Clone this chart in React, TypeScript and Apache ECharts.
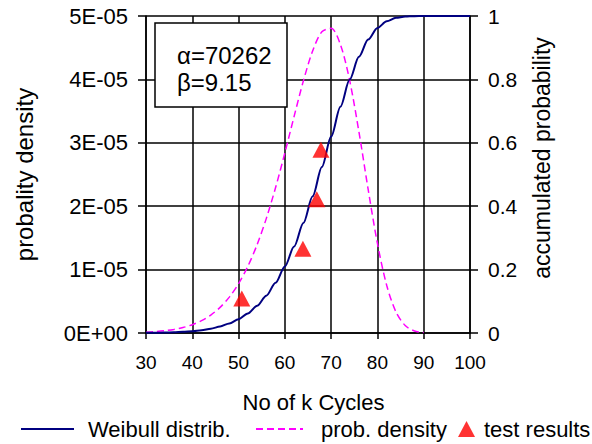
import React, { useEffect, useRef } from "react";
import * as echarts from "echarts";

const cycles = [30, 32, 34, 36, 38, 40, 42, 44, 46, 48, 50, 52, 54, 56, 58, 60, 62, 64, 66, 68, 70, 72, 74, 76, 78, 80, 82, 84, 86, 88, 90, 92, 94, 96, 98, 100];
const weibullCdf = [0.0004, 0.0007, 0.0013, 0.0022, 0.0036, 0.0058, 0.009, 0.0137, 0.0205, 0.0302, 0.0435, 0.0617, 0.086, 0.1179, 0.1588, 0.2101, 0.2726, 0.3467, 0.4311, 0.5235, 0.6196, 0.7137, 0.7995, 0.8714, 0.9258, 0.9623, 0.9836, 0.9941, 0.9983, 0.9996, 0.9999, 1, 1, 1, 1, 1];
const probDensity = [1.27e-7, 2.14e-7, 3.51e-7, 5.58e-7, 8.66e-7, 1.313e-6, 1.948e-6, 2.832e-6, 4.04e-6, 5.659e-6, 7.784e-6, 1.0512e-5, 1.3928e-5, 1.8079e-5, 2.2949e-5, 2.8407e-5, 3.4172e-5, 3.976e-5, 4.4486e-5, 4.7529e-5, 4.8055e-5, 4.5507e-5, 3.9841e-5, 3.1758e-5, 2.2637e-5, 1.4123e-5, 7.522e-6, 3.321e-6, 1.174e-6, 3.2e-7, 6.4e-8];
const testCycles = [50.7, 63.9, 66.9, 67.8];
const testRanks = [0.109, 0.266, 0.422, 0.578];
const leftTickLabels = ["0E+00", "1E-05", "2E-05", "3E-05", "4E-05", "5E-05"];
const rightTickLabels = ["0", "0.2", "0.4", "0.6", "0.8", "1"];
const paramLines = ["α=70262", "β=9.15"];

const FONT = "Liberation Sans";

export default function App() {
  const ref = useRef<HTMLDivElement>(null);
  useEffect(() => {
    if (!ref.current) return;
    const chart = echarts.init(ref.current, undefined, { renderer: "svg" });
    const black = { color: "#000", width: 1.5 };
    const hiddenSymbol = { color: "rgba(0,0,0,0)", borderWidth: 0, opacity: 0 };
    const legendText = { fontFamily: FONT, fontSize: 22, color: "#000" };
    const option: any = {
      animation: false,
      backgroundColor: "#fff",
      textStyle: { fontFamily: FONT },
      grid: { left: 146, top: 16, right: 122, bottom: 111 },
      xAxis: {
        type: "value",
        min: 30,
        max: 100,
        interval: 10,
        name: "No of k Cycles",
        nameLocation: "middle",
        nameGap: 58,
        nameTextStyle: { fontFamily: FONT, fontSize: 22, color: "#000", padding: [0, 0, 0, 11] },
        axisLine: { show: true, lineStyle: black },
        axisTick: { show: true, length: 6, lineStyle: black },
        axisLabel: { margin: 20, fontFamily: FONT, fontSize: 19, color: "#000" },
        splitLine: { show: true, lineStyle: black },
      },
      yAxis: [
        {
          type: "value",
          min: 0,
          max: 5e-5,
          interval: 1e-5,
          position: "left",
          name: "probality density",
          nameLocation: "middle",
          nameGap: 110,
          nameTextStyle: { fontFamily: FONT, fontSize: 24, color: "#000" },
          axisLine: { show: true, lineStyle: black },
          axisTick: { show: true, length: 8, lineStyle: black },
          axisLabel: {
            margin: 18,
            fontFamily: FONT,
            fontSize: 22,
            color: "#000",
            formatter: (_v: number, i: number) => leftTickLabels[i],
          },
          splitLine: { show: true, lineStyle: black },
        },
        {
          type: "value",
          min: 0,
          max: 1,
          interval: 0.2,
          position: "right",
          axisLine: { show: true, lineStyle: black },
          axisTick: { show: true, length: 8, lineStyle: black },
          axisLabel: {
            margin: 18,
            fontFamily: FONT,
            fontSize: 21,
            color: "#000",
            formatter: (_v: number, i: number) => rightTickLabels[i],
          },
          splitLine: { show: false },
        },
      ],
      legend: [
        {
          data: ["Weibull distrib."],
          left: 20,
          top: 418,
          padding: 0,
          itemWidth: 53,
          itemHeight: 14,
          itemStyle: hiddenSymbol,
          selectedMode: false,
          textStyle: { ...legendText, padding: [0, 0, 0, 9] },
        },
        {
          data: ["prob. density"],
          left: 255,
          top: 418,
          padding: 0,
          itemWidth: 47,
          itemHeight: 14,
          itemStyle: hiddenSymbol,
          selectedMode: false,
          textStyle: { ...legendText, padding: [0, 0, 0, 13] },
        },
        {
          data: [{ name: "test results", icon: "triangle" }],
          left: 458,
          top: 418,
          padding: 0,
          itemWidth: 17,
          itemHeight: 16,
          selectedMode: false,
          textStyle: { ...legendText, padding: [0, 0, 0, 4] },
        },
      ],
      series: [
        {
          name: "Weibull distrib.",
          type: "line",
          yAxisIndex: 1,
          symbol: "none",
          smooth: 0.3,
          smoothMonotone: "x",
          data: cycles.map((c, i) => [c, weibullCdf[i]]),
          lineStyle: { color: "#000080", width: 2 },
          itemStyle: { color: "#000080" },
          z: 3,
        },
        {
          name: "prob. density",
          type: "line",
          yAxisIndex: 0,
          symbol: "none",
          smooth: 0.3,
          data: probDensity.map((v, i) => [cycles[i], v]),
          lineStyle: { color: "#ff00ff", width: 1.5, type: [7, 4] },
          itemStyle: { color: "#ff00ff" },
          z: 2,
        },
        {
          name: "test results",
          type: "scatter",
          yAxisIndex: 1,
          symbol: "triangle",
          symbolSize: [17, 16],
          data: testCycles.map((c, i) => [c, testRanks[i]]),
          itemStyle: { color: "#ff0000" },
          z: 4,
        },
      ],
      graphic: [
        {
          type: "rect",
          z: 100,
          shape: { x: 155, y: 23, width: 132, height: 84 },
          style: { fill: "#fff", stroke: "#000", lineWidth: 1.5 },
        },
        {
          type: "text",
          z: 101,
          x: 177,
          y: 55,
          style: { text: paramLines[0], fontFamily: FONT, fontSize: 24, fill: "#000", align: "left", verticalAlign: "middle" },
        },
        {
          type: "text",
          z: 101,
          x: 177,
          y: 82,
          style: { text: paramLines[1], fontFamily: FONT, fontSize: 24, fill: "#000", align: "left", verticalAlign: "middle" },
        },
        {
          type: "text",
          z: 101,
          x: 542,
          y: 158,
          rotation: Math.PI / 2,
          style: { text: "accumulated probability", fontFamily: FONT, fontSize: 23, fill: "#000", align: "center", verticalAlign: "middle" },
        },
      ],
    };
    chart.setOption(option);
    return () => chart.dispose();
  }, []);
  return (
    <div
      ref={ref}
      style={{ position: "fixed", left: 0, top: 0, width: 592, height: 444, background: "#fff" }}
    />
  );
}
